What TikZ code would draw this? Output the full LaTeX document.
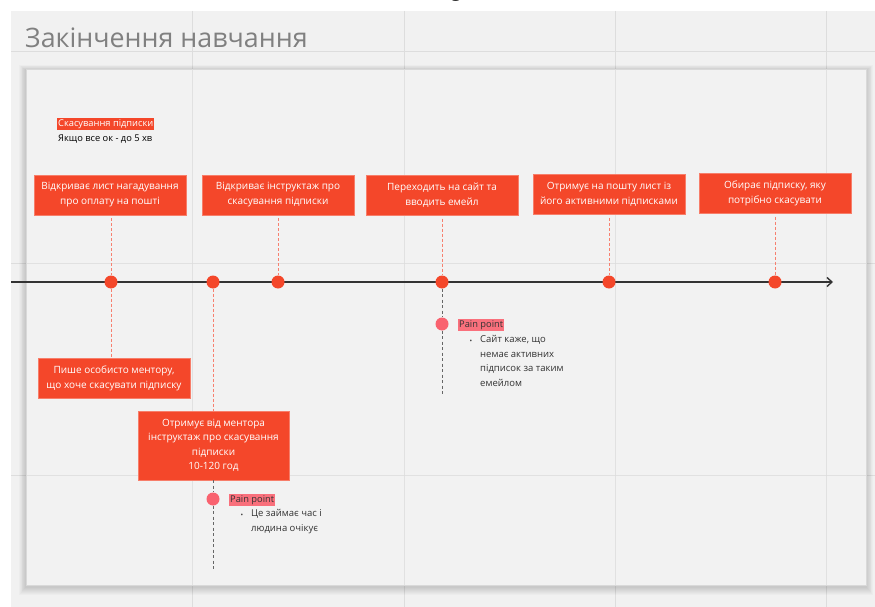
\documentclass[tikz,border=0pt]{standalone}
\usepackage{fontspec}
\setmainfont{Open Sans}
\usetikzlibrary{arrows.meta}
\definecolor{bg}{HTML}{F1F1F1}
\definecolor{panel}{HTML}{F2F2F2}
\definecolor{gridc}{HTML}{DDDDDD}
\definecolor{mred}{HTML}{F4472A}
\definecolor{lred}{HTML}{F7806F}
\definecolor{pink}{HTML}{F9626F}
\definecolor{pinkhl}{HTML}{F9707C}
\definecolor{titlec}{HTML}{808080}
\definecolor{linec}{HTML}{333333}
\definecolor{txt}{HTML}{333333}
\tikzset{
  redbox/.style={fill=mred, draw=mred!70!white, line width=0.4pt, text=white, minimum width=152pt, minimum height=40pt, align=center, font=\fontsize{10}{15}\selectfont, inner sep=2pt},
  dot/.style={circle, fill=mred, minimum size=13pt, inner sep=0pt},
  pdot/.style={circle, fill=pink, minimum size=13pt, inner sep=0pt},
  rdash/.style={draw=lred, line width=1pt, dash pattern=on 3pt off 2pt},
  gdash/.style={draw=black!60, line width=1pt, dash pattern=on 3pt off 2.5pt},
  gline/.style={draw=gridc, line width=1pt},
  pp/.style={fill=pinkhl, text=txt, font=\fontsize{9.3}{10}\selectfont, inner sep=1pt, anchor=west},
  note/.style={text=txt, font=\fontsize{9.5}{14.5}\selectfont, align=left, anchor=north west, inner sep=0pt}
}
\begin{document}
\begin{tikzpicture}[x=1pt,y=-1pt]
\useasboundingbox (0,0) rectangle (875,607);
\fill[white] (0,0) rectangle (875,607);
\begin{scope}
\clip (0,0) rectangle (875,11);
\node[font=\fontsize{20}{20}\selectfont, anchor=base, inner sep=0pt] (gletter) at (456,-3) {g};
\end{scope}
\fill[bg] (11,11) rectangle (875,607);
% grid outside
\foreach \gx in {192,404,615,826} \draw[gline] (\gx,11) -- (\gx,607);
\foreach \gy in {52,263,475} \draw[gline] (11,\gy) -- (875,\gy);
% title
\node[anchor=base west, text=titlec, font=\fontsize{26.8}{28}\selectfont, inner sep=0pt] (title) at (25,48) {Закінчення навчання};
% panel shadow
\foreach \i in {1,...,8} \fill[black, fill opacity=0.018] (26-\i*0.9,69-\i*0.6+1) rectangle (866+\i*0.9,585+\i*1.0+2);
% panel
\path[fill=panel, draw=black!15, line width=0.6pt] (26,69) rectangle (866,585);
\foreach \gx in {192,404,615,826} \draw[gline, draw opacity=0.8] (\gx,69.5) -- (\gx,584.5);
\foreach \gy in {263,475} \draw[gline, draw opacity=0.8] (26.5,\gy) -- (865.5,\gy);
% header note
\node[fill=mred, text=white, font=\fontsize{9.3}{10}\selectfont, inner sep=1pt, anchor=west] (hdr) at (57,124) {Скасування підписки};
\node[text=black, font=\fontsize{9.3}{10}\selectfont, inner sep=0pt, anchor=west] (hdr2) at (58,139) {Якщо все ок - до 5 хв};
% top boxes
\node[redbox] (b1) at (110,195) {Відкриває лист нагадування\\про оплату на пошті};
\node[redbox] (b2) at (278,195) {Відкриває інструктаж про\\скасування підписки};
\node[redbox] (b3) at (442,195.5) {Переходить на сайт та\\вводить емейл};
\node[redbox] (b4) at (609,194.5) {Отримує на пошту лист із\\його активними підписками};
\node[redbox] (b5) at (775,193.5) {Обирає підписку, яку\\потрібно скасувати};
% bottom boxes
\node[redbox] (b6) at (114,378) {Пише особисто ментору,\\що хоче скасувати підписку};
\node[redbox, minimum width=151pt, minimum height=69pt, font=\fontsize{10}{14.5}\selectfont] (b7) at (213.5,445.5) {Отримує від ментора\\інструктаж про скасування\\підписки\\10-120 год};
% timeline
\coordinate (tlstart) at (11,282);
\coordinate (tlend) at (833,282);
\draw[linec, line width=1.6pt, -{Straight Barb[length=5pt,width=9pt,line width=1.4pt]}] (tlstart) -- (tlend);
% dots on timeline
\node[dot] (d1) at (111,282) {};
\node[dot] (d2) at (213,282) {};
\node[dot] (d3) at (278,282) {};
\node[dot] (d4) at (442,282) {};
\node[dot] (d5) at (609,282) {};
\node[dot] (d6) at (775,282) {};
% dashed connectors
\draw[rdash] ([yshift=-3pt]b1.south -| d1) -- (d1.north);
\draw[rdash] ([yshift=-3pt]b2.south) -- (d3.north);
\draw[rdash] ([yshift=-3pt]b3.south) -- (d4.north);
\draw[rdash] ([yshift=-3pt]b4.south) -- (d5.north);
\draw[rdash] ([yshift=-3pt]b5.south) -- (d6.north);
\draw[rdash] (d1.south) -- (b6.north -| d1);
\draw[rdash] (d2.south) -- (b7.north -| d2);
% pain point 1
\coordinate (e1) at (213,571);
\node[pdot] (p1) at (213,499) {};
\draw[gdash] (b7.south -| p1) -- (p1.north);
\draw[gdash] (p1.south) -- (e1);
\node[pp] (pl1) at (229,500) {Pain point};
\node[font=\fontsize{7}{7}\selectfont, text=txt, inner sep=0pt] (bu1) at (242,516) {•};
\node[note] (n1) at (251,509.5) {Це займає час і\\людина очікує};
% pain point 2
\coordinate (e2) at (442,395);
\node[pdot] (p2) at (442,324) {};
\draw[gdash] (d4.south) -- (p2.north);
\draw[gdash] (p2.south) -- (e2);
\node[pp] (pl2) at (458,325) {Pain point};
\node[font=\fontsize{7}{7}\selectfont, text=txt, inner sep=0pt] (bu2) at (471,342) {•};
\node[note] (n2) at (480,335.5) {Сайт каже, що\\немає активних\\підписок за таким\\емейлом};
\end{tikzpicture}
\end{document}
